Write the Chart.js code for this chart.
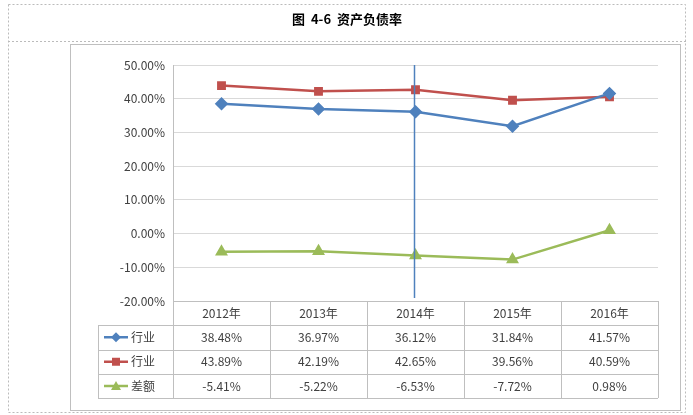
<!DOCTYPE html><html><head><meta charset="utf-8">
<script src="https://cdn.jsdelivr.net/npm/chart.js@4"></script>
<style>body{margin:0;background:#fff}#w{width:693px;height:415px}</style></head><body>
<div id="w"><canvas id="c" width="693" height="415"></canvas></div>
<script>
const categories=["2012年","2013年","2014年","2015年","2016年"];
const seriesNames=["行业","行业","差额"];
const industry=[38.48,36.97,36.12,31.84,41.57];
const company=[43.89,42.19,42.65,39.56,40.59];
const diff=[-5.41,-5.22,-6.53,-7.72,0.98];
const yTicks=[-20,-10,0,10,20,30,40,50];
const colors=["#4F81BD","#C0504D","#9BBB59"];
const styles=["rectRot","rect","triangle"];
const F="'Noto Sans CJK SC','Liberation Sans',sans-serif";
const deco={id:'deco',beforeDraw(ch){const c=ch.ctx;c.save();
 c.fillStyle='#fff';c.fillRect(0,0,693,415);
 c.strokeStyle='#bbb';c.setLineDash([2,2]);c.lineWidth=1;
 c.strokeRect(8.5,4.5,677,408);c.beginPath();c.moveTo(8,41.5);c.lineTo(686,41.5);c.stroke();
 c.setLineDash([]);c.strokeStyle='#bfbfbf';c.strokeRect(70.5,44.5,610,366);
 c.fillStyle='#000';c.font="bold 13px "+F;c.textAlign='center';c.textBaseline='middle';
 c.fillText("图  4-6  资产负债率",347,19);c.restore();},
 afterDraw(ch){const c=ch.ctx,x=ch.scales.x,a=ch.chartArea;c.save();
 const L=98,rows=[a.bottom,325,349.5,374,398];
 c.strokeStyle='#bfbfbf';c.lineWidth=1;
 for(let i=0;i<rows.length;i++){c.beginPath();c.moveTo(i==0?a.left:L,Math.round(rows[i])+.5);c.lineTo(a.right,Math.round(rows[i])+.5);c.stroke();}
 const w=(a.right-a.left)/categories.length;
 for(let i=0;i<=categories.length;i++){const xx=Math.round(a.left+i*w)+.5;c.beginPath();c.moveTo(xx,i==0?a.top:a.bottom);c.lineTo(xx,398);c.stroke();}
 c.beginPath();c.moveTo(L+.5,325);c.lineTo(L+.5,398);c.stroke();
 c.font="12px "+F;c.fillStyle='#404040';c.textBaseline='middle';c.textAlign='center';
 categories.forEach((t,i)=>c.fillText(t,x.getPixelForValue(i),313));
 const data=[industry,company,diff];
 data.forEach((d,r)=>{const yy=(rows[r+1]+rows[r+2])/2;
  c.strokeStyle=colors[r];c.lineWidth=2.5;c.beginPath();c.moveTo(104,yy);c.lineTo(128,yy);c.stroke();
  c.fillStyle=colors[r];c.beginPath();
  if(r==0){c.moveTo(116,yy-5);c.lineTo(121,yy);c.lineTo(116,yy+5);c.lineTo(111,yy);}
  else if(r==1){c.rect(112,yy-4,8,8);}else{c.moveTo(116,yy-5);c.lineTo(121,yy+4);c.lineTo(111,yy+4);}
  c.fill();c.fillStyle='#404040';c.textAlign='left';c.fillText(seriesNames[r],131,yy);
  c.textAlign='center';d.forEach((v,i)=>c.fillText(v.toFixed(2)+'%',x.getPixelForValue(i),yy));});
 c.strokeStyle='#4F81BD';c.lineWidth=1.5;c.beginPath();const vx=x.getPixelForValue(2)-1;c.moveTo(vx,a.top);c.lineTo(vx,a.bottom-3);c.stroke();
 c.restore();}};
new Chart(document.getElementById('c'),{type:'line',
 data:{labels:categories,datasets:[industry,company,diff].map((d,i)=>({label:seriesNames[i],data:d,borderColor:colors[i],backgroundColor:colors[i],borderWidth:2.5,pointStyle:styles[i],pointRadius:i==1?4.5:5,tension:0}))},
 options:{responsive:false,animation:false,layout:{padding:{left:98,top:65,right:35,bottom:114}},
 plugins:{legend:{display:false},tooltip:{enabled:false}},
 scales:{x:{display:false,offset:true},
 y:{min:-20,max:50,afterFit(s){s.width=75},afterBuildTicks(s){s.ticks=yTicks.map(v=>({value:v}))},
 ticks:{color:'#404040',font:{size:12,family:F},callback:v=>v.toFixed(2)+'%',padding:8},
 grid:{color:'#d9d9d9',drawTicks:false},border:{color:'#bfbfbf'}}}},plugins:[deco]});
</script></body></html>
